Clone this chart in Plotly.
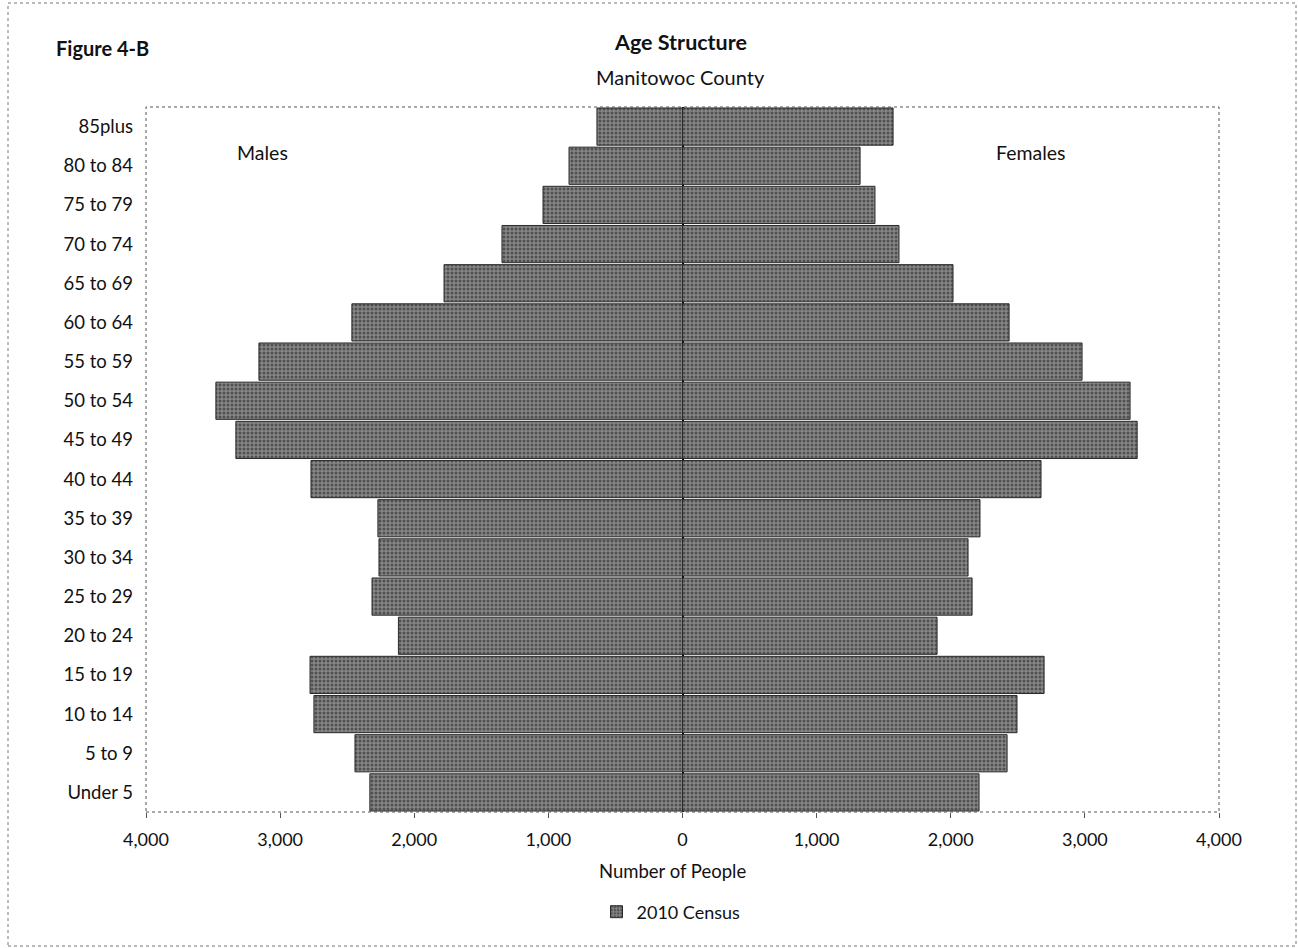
import plotly.graph_objects as go

age_groups = ["Under 5", "5 to 9", "10 to 14", "15 to 19", "20 to 24", "25 to 29",
              "30 to 34", "35 to 39", "40 to 44", "45 to 49", "50 to 54", "55 to 59",
              "60 to 64", "65 to 69", "70 to 74", "75 to 79", "80 to 84", "85plus"]
males = [2331, 2442, 2748, 2777, 2118, 2315, 2263, 2271, 2770, 3330, 3479, 3158,
         2465, 1778, 1346, 1040, 846, 638]
females = [2211, 2420, 2494, 2696, 1898, 2159, 2129, 2218, 2673, 3390, 3337, 2979,
           2435, 2017, 1614, 1435, 1324, 1570]
tick_vals = [-4000, -3000, -2000, -1000, 0, 1000, 2000, 3000, 4000]
tick_text = ["4,000", "3,000", "2,000", "1,000", "0", "1,000", "2,000", "3,000", "4,000"]

FONT = "Lato, sans-serif"
pattern = dict(shape=".", fgcolor="#1a1a1a", bgcolor="#868686", size=4, solidity=0.45)

fig = go.Figure()
fig.add_trace(go.Bar(
    y=age_groups, x=[-v for v in males], orientation="h", name="2010 Census",
    legendgroup="c", showlegend=True,
    marker=dict(color="#868686", pattern=pattern, line=dict(color="#2a2a2a", width=1)),
    hoverinfo="skip"))
fig.add_trace(go.Bar(
    y=age_groups, x=females, orientation="h", name="2010 Census",
    legendgroup="c", showlegend=False,
    marker=dict(color="#868686", pattern=pattern, line=dict(color="#2a2a2a", width=1)),
    hoverinfo="skip"))

L, R, T, B = 146, 1219, 107, 812
W, H = 1298, 948
pw, ph = R - L, B - T

def px(x):
    return (x - L) / pw

def py(y):
    return (B - y) / ph

fig.update_layout(
    width=W, height=H,
    margin=dict(l=L, r=W - R, t=T, b=H - B),
    paper_bgcolor="white", plot_bgcolor="white",
    barmode="overlay", bargap=0.05,
    font=dict(family=FONT, size=19, color="#111111"),
    showlegend=True,
    legend=dict(x=px(671), y=py(912), xanchor="center", yanchor="middle",
                font=dict(size=18), bgcolor="rgba(0,0,0,0)", itemwidth=30),
    xaxis=dict(range=[-4000, 4000], tickvals=tick_vals, ticktext=tick_text,
               showgrid=False, zeroline=True, zerolinecolor="#000000", zerolinewidth=1.5,
               ticks="outside", ticklen=5, tickcolor="#555555",
               tickfont=dict(size=18), ticklabelstandoff=6, fixedrange=True),
    yaxis=dict(categoryorder="array", categoryarray=age_groups, showgrid=False,
               ticks="", tickfont=dict(size=18.5), ticklabelstandoff=12),
)

# plot area border (dotted)
fig.add_shape(type="rect", xref="paper", yref="paper", x0=0, x1=1, y0=0, y1=1,
              line=dict(color="#555555", width=1, dash="dot"), layer="above")
# outer figure border
fig.add_shape(type="rect", xref="paper", yref="paper",
              x0=px(8), x1=px(1296), y0=py(946), y1=py(3),
              line=dict(color="#777777", width=1, dash="dot"), layer="above")

ann = [
    dict(text="<b>Age Structure</b>", x=px(680), y=py(42), size=21.5),
    dict(text="Manitowoc County", x=px(680), y=py(77), size=20),
    dict(text="<b>Figure 4-B</b>", x=px(102), y=py(48), size=20),
    dict(text="Males", x=px(262), y=py(152), size=19.5),
    dict(text="Females", x=px(1031), y=py(152), size=19.5),
    dict(text="Number of People", x=px(672), y=py(871), size=18.5),
]
for a in ann:
    fig.add_annotation(text=a["text"], x=a["x"], y=a["y"], xref="paper", yref="paper",
                       xanchor="center", yanchor="middle", showarrow=False,
                       font=dict(family=FONT, size=a["size"], color="#111111"))

fig.write_html("out.html")
